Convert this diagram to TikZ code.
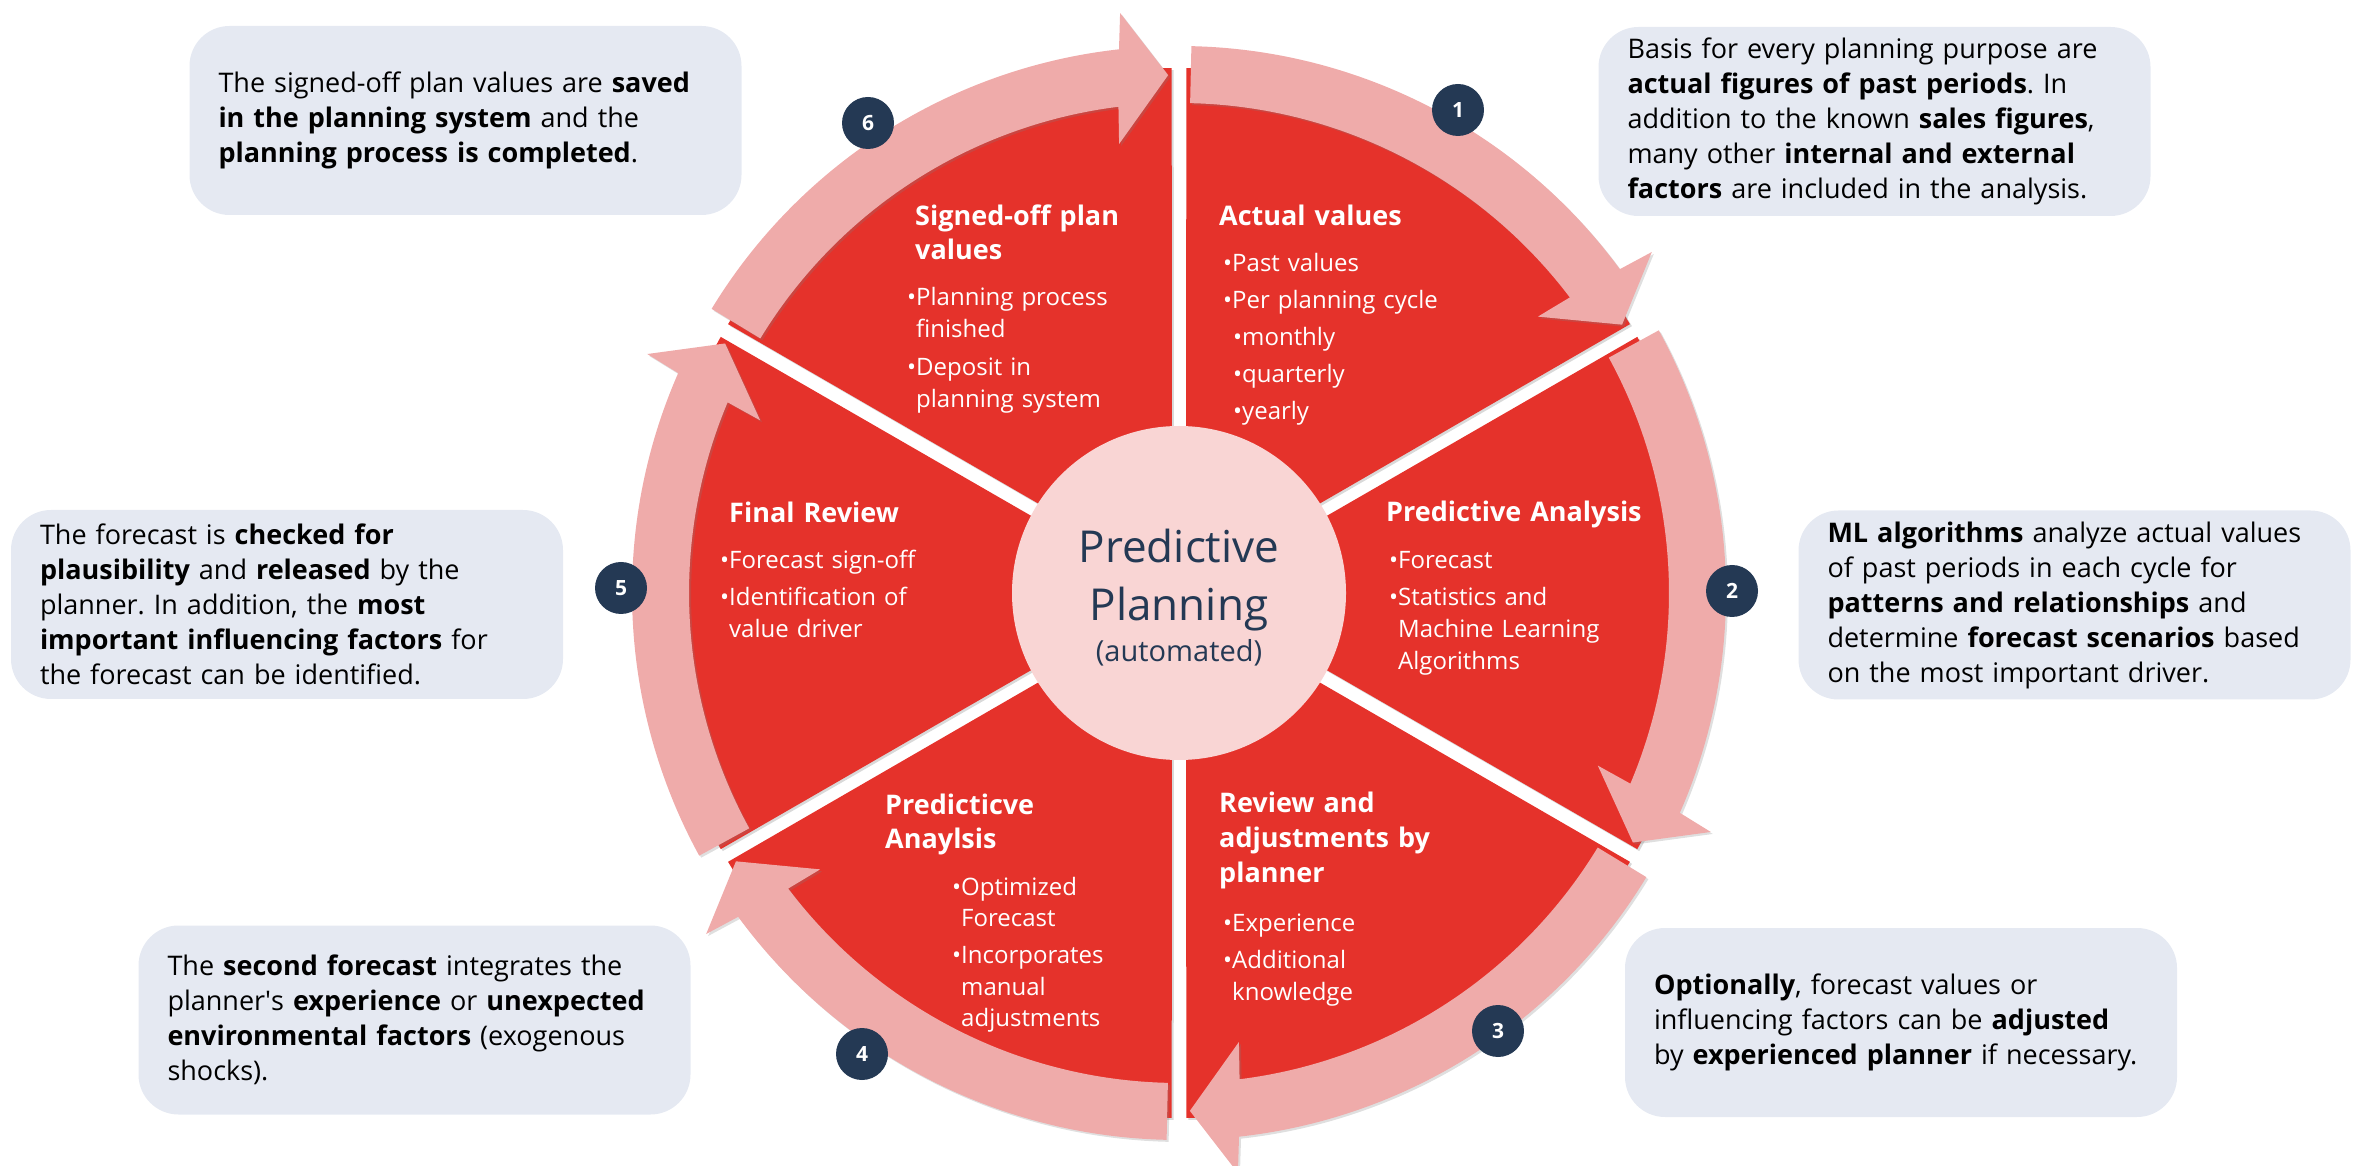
\documentclass[tikz,border=0pt]{standalone}
\usepackage{fontspec}
\setmainfont{Open Sans}
\usetikzlibrary{calc,shadows}
\definecolor{segred}{HTML}{E5322B}
\definecolor{arrpink}{HTML}{EFABAA}
\definecolor{hubpink}{HTML}{F9D5D4}
\definecolor{navy}{HTML}{243954}
\definecolor{notegray}{HTML}{E5E9F2}
\hyphenpenalty=10000
\frenchspacing
\newcommand\dotitem{\leavevmode\llap{•}}
\tikzset{
  seg/.style={fill=segred,drop shadow={shadow xshift=2pt,shadow yshift=-2pt,opacity=.3}},
  arr/.style={fill=arrpink,drop shadow={shadow xshift=2pt,shadow yshift=-2pt,opacity=.25}},
  num/.style={circle,fill=navy,text=white,inner sep=0pt,minimum size=52pt,font=\fontsize{21}{21}\selectfont\bfseries},
  hub/.style={circle,fill=hubpink,inner sep=0pt,minimum size=334pt},
  hubtxt/.style={anchor=base,text=navy,inner sep=0pt},
  segtitle/.style={anchor=base west,text=white,inner sep=0pt,text width=330pt,align=left,font=\fontsize{27}{34}\selectfont\bfseries},
  segitems/.style={anchor=base west,text=white,inner sep=0pt,text width=300pt,align=left,font=\fontsize{24}{32}\selectfont},
  note/.style={fill=notegray,rounded corners=40pt,inner xsep=29pt,inner ysep=0pt,text width=494pt,minimum height=189pt,align=left,font=\fontsize{27}{35}\selectfont}
}
\begin{document}
\begin{tikzpicture}[x=1pt,y=1pt]
    \useasboundingbox (0,0) rectangle (2357,1165);
    \coordinate (c) at (1179,572);
    \foreach \a in {90,30,-30,-90,-150,-210}
        \fill[seg] ($(c)+(\a-30:14)$)--($(c)+(\a-0.8:525)$)arc[start angle=\a-0.8,end angle=\a-59.2,radius=525]--cycle;
    \foreach \a in {90,30,-30,-90,-150,-210}{
        \pgfmathsetmacro\angA{\a-1.3}\pgfmathsetmacro\angB{\a-58.8}
        \fill[arr] ($(c)+(\angA:547)$)arc[start angle=\angA,end angle=\angB+5.1,radius=547]
            --($(c)+(\angB+4.6:583)$)--($(c)+(\angB:518)$)--($(c)+(\angB+6.4:453)$)
            --($(c)+(\angB+5.9:490)$)arc[start angle=\angB+5.9,end angle=\angA,radius=490]--cycle;
    }
    \node[num] (n1) at (1458,1055) {1};
    \node[num] (n2) at (1732,574) {2};
    \node[num] (n3) at (1498,134) {3};
    \node[num] (n4) at (862,111) {4};
    \node[num] (n5) at (621,577) {5};
    \node[num] (n6) at (868,1042) {6};
    \node[hub] (hub) at (c) {};
    \node[hubtxt,font=\fontsize{44}{44}\selectfont] (hubA) at (1179,602) {Predictive};
    \node[hubtxt,font=\fontsize{44}{44}\selectfont] (hubB) at (1179,544) {Planning};
    \node[hubtxt,font=\fontsize{29}{29}\selectfont] (hubC) at (1179,503) {(automated)};
    \node[segtitle] (s1) at (1219,939) {Actual values};
    \node[segitems] (i1) at (1232,893) {\dotitem Past values\\[5pt]\dotitem Per planning cycle\\[5pt]
        \hspace*{10pt}\dotitem monthly\\[5pt]\hspace*{10pt}\dotitem quarterly\\[5pt]\hspace*{10pt}\dotitem yearly};
    \node[segtitle] (s2) at (1386,643) {Predictive Analysis};
    \node[segitems] (i2) at (1398,596) {\dotitem Forecast\\[5pt]\dotitem Statistics and\\Machine Learning\\Algorithms};
    \node[segtitle,font=\fontsize{27}{35}\selectfont\bfseries] (s3) at (1219,352) {Review and\\adjustments by\\planner};
    \node[segitems] (i3) at (1232,234) {\dotitem Experience\\[5pt]\dotitem Additional\\knowledge};
    \node[segtitle] (s4) at (885,350) {Predicticve\\Anaylsis};
    \node[segitems] (i4) at (961,270) {\dotitem Optimized\\Forecast\\[4pt]\dotitem Incorporates\\manual\\adjustments};
    \node[segtitle] (s5) at (729,642) {Final Review};
    \node[segitems] (i5) at (729,596) {\dotitem Forecast sign-off\\[5pt]\dotitem Identification of\\value driver};
    \node[segtitle] (s6) at (915,939) {Signed-off plan\\values};
    \node[segitems] (i6) at (916,859) {\dotitem Planning process\\finished\\[6pt]\dotitem Deposit in\\planning system};
    \node[note] (d1) at (1874.5,1043.5) {Basis for every planning purpose are\\\textbf{actual figures of past periods}. In\\addition to the known \textbf{sales figures},\\many other \textbf{internal and external}\\\textbf{factors} are included in the analysis.};
    \node[note] (d2) at (2074.5,560) {\textbf{ML algorithms} analyze actual values\\of past periods in each cycle for\\\textbf{patterns and relationships} and\\determine \textbf{forecast scenarios} based\\on the most important driver.};
    \node[note] (d3) at (1901,142.5) {\textbf{Optionally}, forecast values or\\influencing factors can be \textbf{adjusted}\\by \textbf{experienced planner} if necessary.};
    \node[note] (d4) at (414.5,145) {The \textbf{second forecast} integrates the\\planner\textquotesingle s \textbf{experience} or \textbf{unexpected}\\\textbf{environmental factors} (exogenous\\shocks).};
    \node[note] (d5) at (287,560.5) {The forecast is \textbf{checked for}\\\textbf{plausibility} and \textbf{released} by the\\planner. In addition, the \textbf{most}\\\textbf{important influencing factors} for\\the forecast can be identified.};
    \node[note] (d6) at (465.5,1044.5) {The signed-off plan values are \textbf{saved}\\\textbf{in the planning system} and the\\\textbf{planning process is completed}.};
\end{tikzpicture}
\end{document}
